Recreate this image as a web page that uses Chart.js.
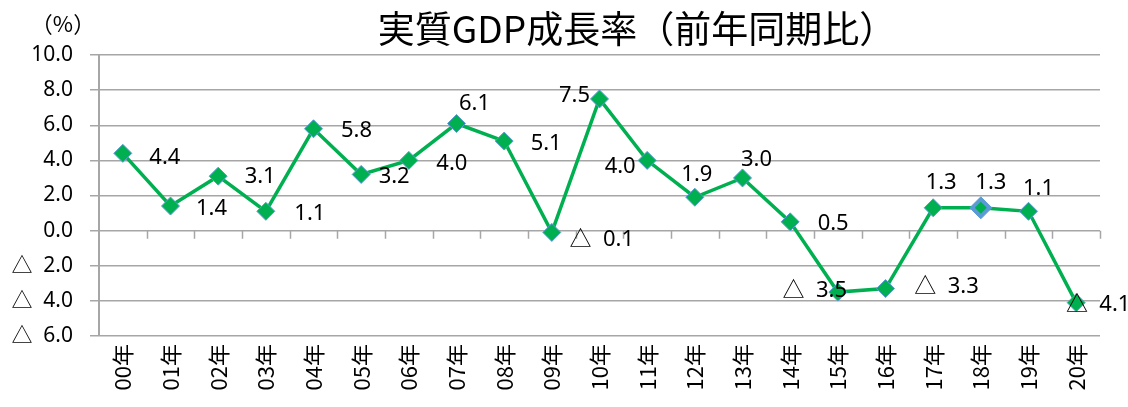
<!DOCTYPE html>
<html>
<head>
<meta charset="utf-8">
<script src="https://cdn.jsdelivr.net/npm/chart.js@4/dist/chart.umd.min.js"></script>
<style>
  html, body { margin: 0; padding: 0; background: #fff; }
  #wrap { width: 1128px; height: 407px; }
</style>
</head>
<body>
<div id="wrap"><canvas id="gdpChart"></canvas></div>
<script>
// 年次ラベル
const years = ['00年','01年','02年','03年','04年','05年','06年','07年','08年','09年','10年',
  '11年','12年','13年','14年','15年','16年','17年','18年','19年','20年'];

// 実質GDP成長率 (%)
const growth = [4.4, 1.4, 3.1, 1.1, 5.8, 3.2, 4.0, 6.1, 5.1, -0.1, 7.5,
  4.0, 1.9, 3.0, 0.5, -3.5, -3.3, 1.3, 1.3, 1.1, -4.1];

// y axis ticks
const yTicks = [10, 8, 6, 4, 2, 0, -2, -4, -6];

// where each value label sits relative to its point (px)
const labelOffsets = [
  [42, 4], [41, 3], [42, 1], [44, 2], [43, 2], [33, 2], [43, 3], [18, -20],
  [42, 3], [50, 7], [-25, -3], [-27, 6], [2, -23], [14, -18], [43, 2],
  [-23, -1], [61, -2], [8, -25], [10, -25], [10, -23], [22, 2]
];

const highlightIdx = 18;
const numFont = '"Noto Sans", "Noto Sans CJK JP", sans-serif';

// Excel style: negative numbers shown with a triangle
function fmt(v) {
  return v < 0 ? '△  ' + Math.abs(v).toFixed(1) : v.toFixed(1);
}

const green = '#00b050';
const blue = '#5b9bd5';

// title, unit label, category tick marks on the zero line, value labels
const extras = {
  id: 'extras',
  afterDatasetsDraw(chart) {
    const ctx = chart.ctx;
    const y = chart.scales.y;
    const area = chart.chartArea;
    ctx.save();

    // tick marks between categories along 0 line
    const y0 = y.getPixelForValue(0);
    const step = (area.right - area.left) / years.length;
    ctx.strokeStyle = '#a6a6a6';
    ctx.lineWidth = 1.5;
    ctx.beginPath();
    for (let i = 1; i <= years.length; i++) {
      const px = Math.round(area.left + i * step) + 0.5;
      ctx.moveTo(px, y0);
      ctx.lineTo(px, y0 + 8);
    }
    ctx.stroke();

    // value labels
    const meta = chart.getDatasetMeta(0);
    ctx.fillStyle = '#000';
    ctx.font = '22px ' + numFont;
    ctx.textAlign = 'center';
    ctx.textBaseline = 'middle';
    growth.forEach((v, i) => {
      const pt = meta.data[i];
      const off = labelOffsets[i];
      ctx.fillText(fmt(v), pt.x + off[0], pt.y + off[1]);
    });

    // title
    ctx.font = '37px "Noto Sans CJK JP", sans-serif';
    ctx.fillText('実質GDP成長率（前年同期比）', 637, 29);

    // unit
    ctx.font = '22px "Noto Sans CJK JP", sans-serif';
    ctx.fillText('（%）', 63, 24);
    ctx.restore();
  }
};

const ctx = document.getElementById('gdpChart').getContext('2d');
const gdpChart = new Chart(ctx, {
  type: 'line',
  data: {
    labels: years,
    datasets: [{
      data: growth,
      order: 1,
      borderColor: green,
      borderWidth: 3.5,
      pointStyle: 'rectRot',
      pointRadius: growth.map((v, i) => i === highlightIdx ? 11 : 9),
      pointBackgroundColor: growth.map((v, i) => i === highlightIdx ? blue : green),
      pointBorderColor: blue,
      pointBorderWidth: 1,
      tension: 0
    }, {
      // small inner marker for the highlighted point
      data: growth.map((v, i) => i === highlightIdx ? v : null),
      order: 0,
      showLine: false,
      pointStyle: 'rectRot',
      pointRadius: 6,
      pointBackgroundColor: green,
      pointBorderColor: green,
      pointBorderWidth: 0
    }]
  },
  options: {
    responsive: true,
    maintainAspectRatio: false,
    animation: false,
    layout: {
      padding: { top: 55, right: 28, left: 0, bottom: 0 }
    },
    plugins: {
      legend: { display: false },
      tooltip: { enabled: false },
      title: { display: false }
    },
    scales: {
      x: {
        offset: true,
        grid: { display: false, drawTicks: false },
        border: { display: false },
        ticks: {
          color: '#000',
          minRotation: 90,
          maxRotation: 90,
          padding: 8,
          autoSkip: false,
          font: { size: 22, family: '"Noto Sans CJK JP", sans-serif' }
        },
        afterFit(scale) { scale.height = 71; }
      },
      y: {
        min: -6,
        max: 10,
        afterBuildTicks(scale) {
          scale.ticks = yTicks.map(v => ({ value: v }));
        },
        grid: { color: '#a6a6a6', lineWidth: 1.5, tickLength: 9 },
        border: { display: true, color: '#a6a6a6', width: 2 },
        ticks: {
          color: '#000',
          padding: 17,
          font: { size: 21, family: numFont },
          callback: v => fmt(v)
        },
        afterFit(scale) { scale.width = 99; }
      }
    }
  },
  plugins: [extras]
});
</script>
</body>
</html>
